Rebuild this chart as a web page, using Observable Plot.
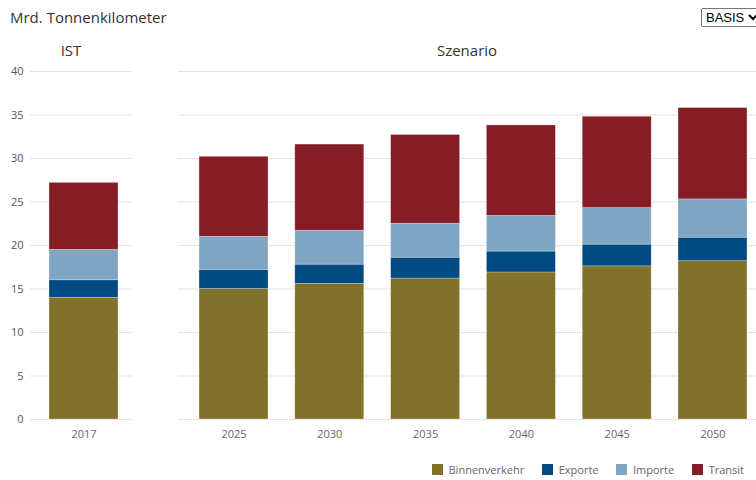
<!DOCTYPE html>
<html><head><meta charset="utf-8">
<script src="https://cdn.jsdelivr.net/npm/d3@7"></script>
<script src="https://cdn.jsdelivr.net/npm/@observablehq/plot@0.6"></script>
<style>
body{margin:0;background:#fff;overflow:hidden;font-family:"Open Sans",sans-serif;}
#wrap{position:relative;width:756px;height:480px;}
.abs{position:absolute;}
#title{left:10px;top:7px;font-size:15px;color:#333;}
.ptitle{top:40px;font-size:15px;color:#333;transform:translateX(-50%);}
#sel{left:701px;top:8px;font-family:Arial,sans-serif;font-size:13px;}
.lg-swatch{margin-right:18px !important;white-space:nowrap;}
.lg-swatches-wrap{flex-wrap:nowrap !important;}
#legend{width:330px;white-space:nowrap;}
</style></head>
<body><div id="wrap">
<div id="title" class="abs">Mrd. Tonnenkilometer</div>
<div class="abs ptitle" style="left:71px">IST</div>
<div class="abs ptitle" style="left:467px">Szenario</div>
<select id="sel" class="abs"><option>BASIS</option></select>
<div id="left" class="abs" style="left:0;top:60px"></div>
<div id="right" class="abs" style="left:178px;top:60px"></div>
<div id="legend" class="abs" style="left:432px;top:453px"></div>
</div>
<script>
const categories = ["Binnenverkehr","Exporte","Importe","Transit"];
const colors = ["#80722a","#014a82","#80a5c3","#861c26"];
const years = ["2017","2025","2030","2035","2040","2045","2050"];
const binnen  = [14.0,15.0,15.6,16.2,16.9,17.6,18.2];
const exporte = [2.0,2.2,2.2,2.4,2.4,2.5,2.7];
const importe = [3.5,3.8,3.9,3.9,4.1,4.2,4.4];
const transit = [7.7,9.2,9.9,10.2,10.4,10.5,10.5];
const yTicks = [0,5,10,15,20,25,30,35,40];
const series = [binnen, exporte, importe, transit];

const data = [];
years.forEach((y,i)=>categories.forEach((c,k)=>data.push({year:y, cat:c, value:series[k][i]})));
const istData = data.filter(d=>d.year==="2017");
const scenData = data.filter(d=>d.year!=="2017");

const H = 390, MT = 11, MB = 31;
const style = {fontFamily:"Open Sans, sans-serif", fontSize:"11px", color:"#666", background:"transparent", overflow:"visible"};
const colorScale = {domain:categories, range:colors};
const barOpts = (d)=>Plot.barY(d, Plot.stackY({x:"year", y:"value", fill:"cat", stroke:"#fff", strokeOpacity:0.45, strokeWidth:0.6, order:categories}));

const left = Plot.plot({
  width:132, height:H, marginLeft:30, marginRight:0, marginTop:MT, marginBottom:MB,
  style,
  x:{domain:["2017"], range:[49,118], padding:0, round:false, label:null},
  y:{domain:[0,40], label:null},
  color:colorScale,
  marks:[
    Plot.gridY(yTicks,{stroke:"#e3e3e3", strokeOpacity:1}),
    Plot.axisY(yTicks,{tickSize:0, tickPadding:7, label:null, fill:"#555"}),
    barOpts(istData),
    Plot.axisX({tickSize:0, tickPadding:11, label:null, fill:"#666"})
  ]
});
document.getElementById("left").append(left);

const right = Plot.plot({
  width:578, height:H, marginLeft:0, marginRight:0, marginTop:MT, marginBottom:MB,
  style,
  x:{domain:years.slice(1), range:[-5.8,595.8], padding:0.28, round:false, label:null},
  y:{domain:[0,40], label:null, axis:null},
  color:colorScale,
  marks:[
    Plot.gridY(yTicks,{stroke:"#e3e3e3", strokeOpacity:1}),
    barOpts(scenData),
    Plot.axisX({tickSize:0, tickPadding:11, label:null, fill:"#666"})
  ]
});
document.getElementById("right").append(right);

const lg = Plot.legend({color:colorScale, swatchSize:11, className:"lg",
  style:{fontFamily:"Open Sans, sans-serif", fontSize:"11px", color:"#666"}});
document.getElementById("legend").append(lg);
</script>
</body></html>
